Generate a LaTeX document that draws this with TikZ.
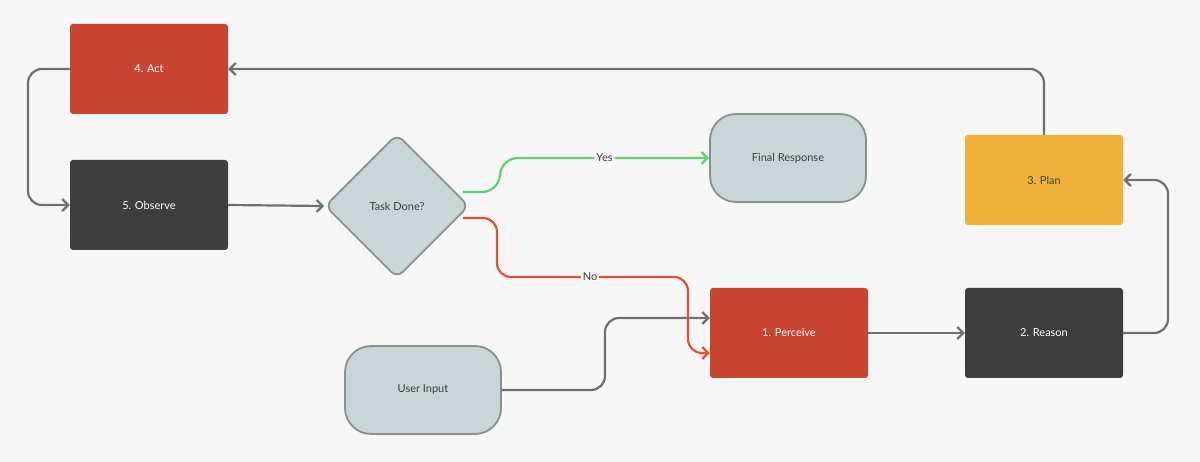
\documentclass[tikz,border=0pt]{standalone}
\usepackage{fontspec}
\setmainfont{Lato}
\usetikzlibrary{shapes.geometric,arrows.meta}
\definecolor{bg}{HTML}{F7F7F7}
\definecolor{red1}{HTML}{C94431}
\definecolor{dark1}{HTML}{3B3F3F}
\definecolor{orange1}{HTML}{F2B13A}
\definecolor{light1}{HTML}{C8D6D8}
\definecolor{edge1}{HTML}{8A9090}
\definecolor{ln}{HTML}{707070}
\definecolor{grn}{HTML}{5DD36A}
\definecolor{nored}{HTML}{E8502F}
\begin{document}
\begin{tikzpicture}[x=1pt,y=-1pt,font=\fontsize{11}{13}\selectfont,
 box/.style={rectangle,rounded corners=3pt,minimum width=158pt,minimum height=90pt,inner sep=0pt},
 rbox/.style={box,fill=red1,text=white},
 dbox/.style={box,fill=dark1,text=white},
 obox/.style={box,fill=orange1,text=dark1},
 lbox/.style={rectangle,rounded corners=26pt,minimum width=156pt,minimum height=88pt,fill=light1,draw=edge1,line width=1.8pt,text=dark1},
 dia/.style={diamond,aspect=1,minimum size=144pt,inner sep=0pt,fill=light1,draw=edge1,line width=1.8pt,rounded corners=8pt,text=dark1},
 conn/.style={draw=ln,line width=2.2pt,rounded corners=14pt,-{Straight Barb[length=6pt,width=12pt]}},
 lab/.style={fill=bg,inner sep=2pt,text=dark1}]
\fill[bg] (0,0) rectangle (1200,462);
\node[rbox] (act) at (149,69) {4. Act};
\node[dbox] (obs) at (149,205) {5. Observe};
\node[dia] (task) at (397,206) {Task Done?};
\node[lbox] (final) at (788,158) {Final Response};
\node[obox] (plan) at (1044,180) {3. Plan};
\node[rbox] (perc) at (789,333) {1. Perceive};
\node[dbox] (reas) at (1044,333) {2. Reason};
\node[lbox] (user) at (423,390) {User Input};
\coordinate (yes0) at (463,192);
\coordinate (no0) at (463,218);
\draw[conn] (plan.north) |- (act.east);
\draw[conn] (act.west) -- (28,69) |- (obs.west);
\draw[conn] (obs.east) -- (task.west);
\draw[conn,draw=grn,rounded corners=18pt] (yes0) -- (500,192) |- (final.west) node[lab,pos=0.75] {Yes};
\draw[conn,draw=nored] (no0) -- (497,218) |- (688,277) |- ([yshift=-20pt]perc.west);
\node[lab] at (590,277) {No};
\draw[conn] (user.east) -- (605,390) |- ([yshift=15pt]perc.west);
\draw[conn] (perc.east) -- (reas.west);
\draw[conn] (reas.east) -- (1168,333) |- (plan.east);
\end{tikzpicture}
\end{document}
